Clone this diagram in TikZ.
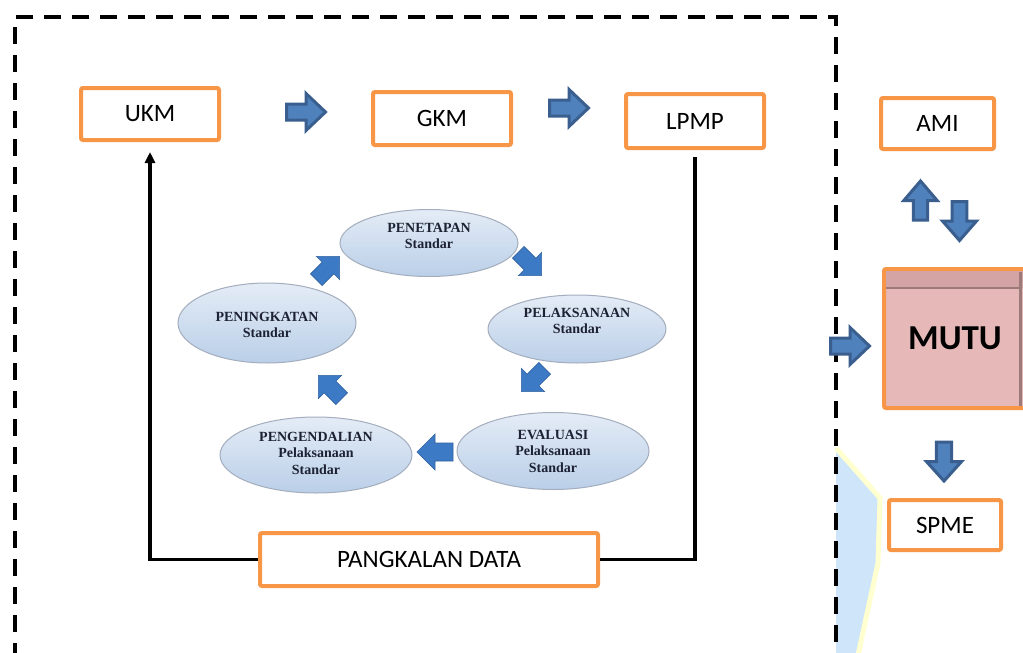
\documentclass[tikz,border=0pt]{standalone}
\usepackage{fontspec}
\setmainfont{Carlito}
\newfontfamily\serifb{Liberation Serif}
\usetikzlibrary{shapes.geometric,arrows.meta}
\definecolor{obor}{HTML}{F79646}
\definecolor{bfill}{HTML}{4F81BD}
\definecolor{bdraw}{HTML}{3A5F8F}
\definecolor{cfill}{HTML}{3D7AC6}
\definecolor{mfill}{HTML}{E6B9B8}
\definecolor{mband}{HTML}{D3A4A3}
\definecolor{mline}{HTML}{9C7A7A}
\definecolor{etop}{HTML}{E4ECF6}
\definecolor{ebot}{HTML}{BACFE8}
\definecolor{edraw}{HTML}{A3ADBD}
\definecolor{etxt}{HTML}{1C2233}
\definecolor{lblue}{HTML}{CFE6FA}
\definecolor{lyel}{HTML}{FFFFD0}
\tikzset{
  obox/.style={draw=obor, line width=4pt, fill=white, rounded corners=2pt, inner sep=0pt,
    font=\fontsize{25}{30}\selectfont, text=black},
  ell/.style={ellipse, draw=edraw, line width=1pt, top color=etop, bottom color=ebot, inner sep=0pt},
  etext/.style={font=\serifb\bfseries\fontsize{14}{16.5}\selectfont, align=center, text=etxt},
  conn/.style={line width=3.8pt, draw=black},
  frame/.style={line width=3.5pt, dash pattern=on 17pt off 11pt},
  barr/.style={fill=bfill, draw=bdraw, line width=3pt, line join=miter},
  carr/.style={fill=cfill, draw=cfill!80!black, line width=0.6pt},
  bigarr/.pic={\path[barr] (-19.5,-8) -- (0,-8) -- (0,-18.5) -- (19.5,0) -- (0,18.5) -- (0,8) -- (-19.5,8) -- cycle;},
  cycarr/.pic={\path[carr] (-15,-7.5) -- (0,-7.5) -- (0,-15) -- (15,0) -- (0,15) -- (0,7.5) -- (-15,7.5) -- cycle;}
}
\begin{document}
\begin{tikzpicture}[x=1pt,y=-1pt]
\useasboundingbox[fill=white] (0,0) rectangle (1023,653);

% light blue shape at bottom right
\fill[lblue] (836,448) -- (880,498) -- (878,563) -- (857,660) -- (836,660) -- cycle;
\draw[lyel, line width=5pt] (836,448) -- (880,498) -- (878,563) -- (857,660);

% dashed frame
\draw[frame] (15,660) -- (15,17) -- (836,17) -- (836,660);

% top boxes
\node[obox, minimum width=138pt, minimum height=52pt] (ukm) at (150,114) {UKM};
\node[obox, minimum width=138pt, minimum height=53pt] (gkm) at (442,118.5) {GKM};
\node[obox, minimum width=138pt, minimum height=54pt] (lpmp) at (695,121) {LPMP};
\node[obox, minimum width=338pt, minimum height=53pt] (pd) at (429,559.5) {PANGKALAN DATA};

% right column
\node[obox, minimum width=113pt, minimum height=51pt] (ami) at (937.5,123.5) {AMI};
\node[obox, minimum width=112pt, minimum height=50pt] (spme) at (945,525) {SPME};
\node[obox, fill=mfill, minimum width=150pt, minimum height=139pt] (mutu) at (959,338.5) {};
\fill[mband] (886,271) rectangle (1023,288);
\draw[mline, line width=1.5pt] (886,288) -- (1019,288);
\draw[mline, line width=3pt] (1020,272) -- (1020,406);
\node[font=\bfseries\fontsize{35}{38}\selectfont, text=black] (mututxt) at (955,338) {MUTU};

% connectors
\draw[conn, -{Triangle[length=11pt,width=10pt]}, shorten >=10pt] (pd.west) -| (ukm.south);
\draw[conn, shorten >=7pt] (pd.east) -| (lpmp.south);

% block arrows
\pic at (306,112) {bigarr};
\pic at (569,108) {bigarr};
\pic at (850,346) {bigarr};
\pic[rotate=90, yscale=0.9] at (920.5,200.5) {bigarr};
\pic[rotate=-90, yscale=0.92] at (959.5,221) {bigarr};
\pic[rotate=-90, yscale=0.95] at (944,461.5) {bigarr};

% cycle
\node[ell, minimum width=178pt, minimum height=67pt] (e1) at (429,243) {};
\node[ell, minimum width=178pt, minimum height=68pt] (e2) at (577,329) {};
\node[ell, minimum width=192pt, minimum height=77pt] (e3) at (553,451) {};
\node[ell, minimum width=192pt, minimum height=76pt] (e4) at (316,455) {};
\node[ell, minimum width=178pt, minimum height=80pt] (e5) at (267,323) {};
\node[etext] (t1) at (429,236) {PENETAPAN\\Standar};
\node[etext] (t2) at (577,321) {PELAKSANAAN\\Standar};
\node[etext] (t3) at (553,451) {EVALUASI\\Pelaksanaan\\Standar};
\node[etext] (t4) at (316,453) {PENGENDALIAN\\Pelaksanaan\\Standar};
\node[etext] (t5) at (267,325) {PENINGKATAN\\Standar};

\pic[rotate=45, scale=1.1] at (328,268) {cycarr};
\pic[rotate=-45, scale=1.1] at (530,264) {cycarr};
\pic[rotate=-135, scale=1.1] at (533,380) {cycarr};
\pic[rotate=180, scale=1.2] at (435,452) {cycarr};
\pic[rotate=135, scale=1.1] at (330,387) {cycarr};
\end{tikzpicture}
\end{document}
